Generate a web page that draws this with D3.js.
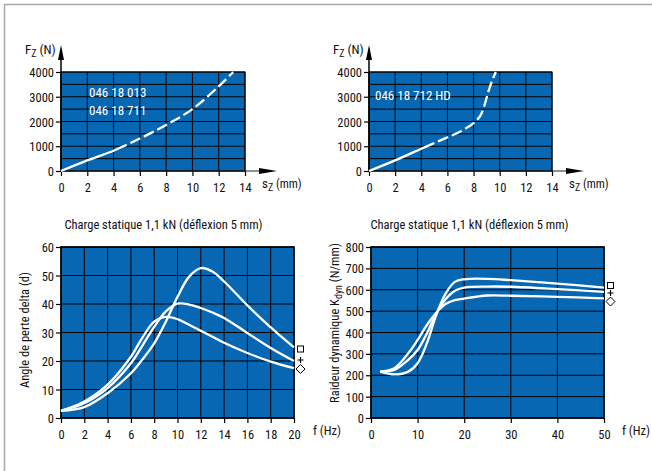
<!DOCTYPE html>
<html>
<head>
<meta charset="utf-8">
<script src="https://cdn.jsdelivr.net/npm/d3@7"></script>
<style>
  html, body { margin: 0; padding: 0; background: #fff; }
  svg text { font-family: "Liberation Sans Narrow", "Roboto Condensed", "DejaVu Sans Condensed", "Liberation Sans", sans-serif; fill: #111; }
</style>
</head>
<body>
<svg id="chart" width="652" height="471"></svg>
<script>
// Static load vs. deflection, two spring variants
const defl013 = [0, 2, 4, 5, 6, 8, 10, 12, 13.1];
const force013 = [0, 430, 820, 1060, 1310, 1860, 2500, 3420, 4000];
const defl712 = [0, 2, 4, 5, 6, 7, 8, 8.5, 8.8, 9.1, 9.4, 9.7];
const force712 = [0, 430, 900, 1130, 1360, 1600, 1930, 2220, 2600, 3150, 3620, 4000];
const forceTicks = [0, 1000, 2000, 3000, 4000];
const deflTicks = [0, 2, 4, 6, 8, 10, 12, 14];

// Loss angle vs. frequency (square, plus, diamond)
const freqLoss = [0, 2, 4, 6, 7, 8, 9, 10, 11, 12, 13, 14, 16, 18, 20];
const lossSquare = [2.5, 3.8, 8.7, 15.7, 20.6, 26.2, 33.8, 42.5, 49.6, 52.6, 51.4, 47.9, 39.5, 31.8, 24.8];
const lossPlus = [2.5, 5.2, 10.5, 19.2, 25.5, 32, 37.4, 40.1, 39.8, 38.6, 37.0, 35.1, 29.8, 24.6, 20];
const lossDiamond = [2.5, 5.8, 11.7, 21.5, 28.3, 33.8, 35.5, 34.7, 32.7, 30.6, 28.5, 26.4, 22.8, 19.8, 17.5];
const lossTicksX = [0, 2, 4, 6, 8, 10, 12, 14, 16, 18, 20];
const lossTicksY = [0, 10, 20, 30, 40, 50, 60];

// Dynamic stiffness vs. frequency
const freqStiff = [2, 5, 8, 10, 12, 14, 16, 18, 20, 25, 30, 40, 50];
const stiffSquare = [217, 204, 217, 256, 350, 482, 582, 637, 649, 651, 645, 629, 610];
const stiffPlus = [217, 225, 272, 318, 396, 489, 555, 595, 610, 615, 614, 603, 590];
const stiffDiamond = [217, 233, 303, 365, 435, 492, 533, 551, 559, 573, 572, 567, 560];
const stiffTicksX = [0, 10, 20, 30, 40, 50];
const stiffTicksY = [0, 100, 200, 300, 400, 500, 600, 700, 800];

const BLUE = "#0767b3";
const svg = d3.select("#chart");

// page frame
svg.append("path").attr("d", "M4.5,471V4.5H652").attr("fill", "none")
  .attr("stroke", "#a8a8a8").attr("stroke-width", 1.5);

function arrowUp(g, x, yTip) {
  g.append("path").attr("d", `M${x},${yTip}L${x - 3},${yTip + 15}L${x + 3},${yTip + 15}Z`).attr("fill", "#000");
}
function arrowRight(g, xTip, y) {
  g.append("path").attr("d", `M${xTip},${y}L${xTip - 18},${y - 3}L${xTip - 18},${y + 3}Z`).attr("fill", "#000");
}

function panel(opt) {
  const g = svg.append("g");
  const x = d3.scaleLinear().domain(opt.xDomain).range([opt.x0, opt.x1]);
  const y = d3.scaleLinear().domain(opt.yDomain).range([opt.y1, opt.y0]);

  g.append("rect").attr("x", opt.x0).attr("y", opt.y0)
    .attr("width", opt.x1 - opt.x0).attr("height", opt.y1 - opt.y0).attr("fill", BLUE);

  // grid
  g.append("g").selectAll("line").data(opt.xGrid).join("line")
    .attr("x1", d => x(d)).attr("x2", d => x(d)).attr("y1", opt.y0).attr("y2", opt.y1)
    .attr("stroke", "#000").attr("stroke-width", 1);
  g.append("g").selectAll("line").data(opt.yGrid).join("line")
    .attr("x1", opt.x0).attr("x2", opt.x1).attr("y1", d => y(d)).attr("y2", d => y(d))
    .attr("stroke", "#000").attr("stroke-width", 1);

  // axes
  const ax = g.append("g").attr("transform", `translate(0,${opt.y1})`)
    .call(d3.axisBottom(x).tickValues(opt.xTicks).tickSize(5).tickPadding(4).tickFormat(d3.format("d")));
  const ay = g.append("g").attr("transform", `translate(${opt.x0},0)`)
    .call(d3.axisLeft(y).tickValues(opt.yTicks).tickSize(5).tickPadding(2).tickFormat(d3.format("d")));
  [ax, ay].forEach(a => {
    a.select(".domain").remove();
    a.selectAll("line").attr("stroke", "#000").attr("stroke-width", 1.2);
    a.selectAll("text").attr("font-size", 12.5).attr("fill", "#111");
  });
  ax.selectAll("text").attr("dy", "0.95em");
  ay.selectAll("text").attr("dy", "0.36em");
  return { g, x, y };
}

const lineGen = (x, y) => d3.line().x(d => x(d[0])).y(d => y(d[1])).curve(d3.curveCatmullRom.alpha(0.5));

function springPanel(x0, x1, sData, fData, labels, labelY) {
  const p = panel({
    x0, x1, y0: 72, y1: 171,
    xDomain: [0, 14], yDomain: [0, 4000],
    xGrid: deflTicks, yGrid: d3.range(0, 4001, 500),
    xTicks: deflTicks, yTicks: forceTicks
  });
  const { g, x, y } = p;
  // border
  g.append("rect").attr("x", x0).attr("y", 72).attr("width", x1 - x0).attr("height", 99)
    .attr("fill", "none").attr("stroke", "#000").attr("stroke-width", 1);
  // axes with arrows
  g.append("line").attr("x1", x0).attr("x2", x0).attr("y1", 171).attr("y2", 52)
    .attr("stroke", "#000").attr("stroke-width", 1.5);
  arrowUp(g, x0, 45);
  g.append("line").attr("x1", x0).attr("x2", x1 + 18).attr("y1", 171).attr("y2", 171)
    .attr("stroke", "#222").attr("stroke-width", 1.2);
  arrowRight(g, x1 + 32, 171);

  // curve: solid up to 5 mm, dashed beyond
  const pts = sData.map((s, i) => [s, fData[i]]);
  const ln = lineGen(x, y);
  const full = g.append("path").attr("d", ln(pts)).attr("fill", "none")
    .attr("stroke", "#fff").attr("stroke-width", 2.3);
  const node = full.node();
  const total = node.getTotalLength();
  let lo = 0, hi = total;
  const xs = x(5);
  for (let k = 0; k < 30; k++) {
    const mid = (lo + hi) / 2;
    if (node.getPointAtLength(mid).x < xs) lo = mid; else hi = mid;
  }
  const pattern = [lo];
  let acc = lo, gap = true;
  while (acc < total + 20) {
    const seg = gap ? 4 : 11;
    pattern.push(seg);
    acc += seg;
    gap = !gap;
  }
  if (pattern.length % 2 === 1) pattern.push(4);
  full.attr("stroke-dasharray", pattern.join(","));

  labels.forEach((t, i) => {
    g.append("text").attr("x", x0 + (labels.length === 1 ? 6 : 28))
      .attr("y", labelY + i * 18).attr("font-size", 13).style("fill", "#fff").text(t);
  });

  // axis titles
  const fz = g.append("text").attr("x", x0 - 36).attr("y", 54).attr("font-size", 13);
  fz.append("tspan").text("F");
  fz.append("tspan").attr("font-size", 10).attr("dy", 3).text("Z");
  fz.append("tspan").attr("dy", -3).text(" (N)");
  const sz = g.append("text").attr("x", x1 + 17).attr("y", 188).attr("font-size", 13);
  sz.append("tspan").text("s");
  sz.append("tspan").attr("font-size", 10).attr("dy", 3).text("Z");
  sz.append("tspan").attr("dy", -3).attr("font-size", 12).text(" (mm)");
  return p;
}

springPanel(61, 245, defl013, force013, ["046 18 013", "046 18 711"], 97);
springPanel(369, 552, defl712, force712, ["046 18 712 HD"], 100);

// markers at the right end of the dynamic curves
function markers(g, cx, ys) {
  g.append("rect").attr("x", cx - 3).attr("y", ys[0] - 3).attr("width", 6).attr("height", 6)
    .attr("fill", "#fff").attr("stroke", "#000").attr("stroke-width", 1);
  g.append("path").attr("d", `M${cx - 3},${ys[1]}H${cx + 3}M${cx},${ys[1] - 3}V${ys[1] + 3}`)
    .attr("stroke", "#000").attr("stroke-width", 1.2);
  g.append("path").attr("d", `M${cx},${ys[2] - 4.5}L${cx + 4.5},${ys[2]}L${cx},${ys[2] + 4.5}L${cx - 4.5},${ys[2]}Z`)
    .attr("fill", "#fff").attr("stroke", "#000").attr("stroke-width", 1);
}

function dynPanel(opt, fData, series, title, yTitle, markerX, markerY) {
  const p = panel(Object.assign({ y0: 247, y1: 418 }, opt));
  const { g, x, y } = p;
  g.append("rect").attr("x", opt.x0).attr("y", 247).attr("width", opt.x1 - opt.x0).attr("height", 171)
    .attr("fill", "none").attr("stroke", "#000").attr("stroke-width", 1.6);
  const ln = lineGen(x, y);
  series.forEach(vals => {
    g.append("path").attr("d", ln(fData.map((f, i) => [f, vals[i]]))).attr("fill", "none")
      .attr("stroke", "#fff").attr("stroke-width", 2.3);
  });
  g.append("text").attr("x", (opt.x0 + opt.x1) / 2 + opt.titleShift).attr("y", 229)
    .attr("text-anchor", "middle").attr("font-size", 12.5).text(title);
  const yt = g.append("text").attr("transform", `translate(${opt.x0 - 32},${opt.yTitleCy}) rotate(-90)`)
    .attr("text-anchor", "middle").attr("font-size", 12.5);
  yTitle(yt);
  g.append("text").attr("x", opt.x1 + opt.fShift).attr("y", 435).attr("font-size", 12.5).text("f (Hz)");
  markers(g, markerX, markerY);
}

dynPanel({ x0: 61, x1: 294, xDomain: [0, 20], yDomain: [0, 60], xGrid: lossTicksX, yGrid: lossTicksY,
  xTicks: lossTicksX, yTicks: lossTicksY, titleShift: -14, yTitleCy: 330, fShift: 19 },
  freqLoss, [lossSquare, lossPlus, lossDiamond],
  "Charge statique 1,1 kN (déflexion 5 mm)",
  t => t.text("Angle de perte delta (d)"),
  300.5, [349, 360, 369]);

dynPanel({ x0: 371, x1: 604, xDomain: [0, 50], yDomain: [0, 800], xGrid: stiffTicksX, yGrid: stiffTicksY,
  xTicks: stiffTicksX, yTicks: stiffTicksY, titleShift: -18, yTitleCy: 323, fShift: 18 },
  freqStiff, [stiffSquare, stiffPlus, stiffDiamond],
  "Charge statique 1,1 kN (déflexion 5 mm)",
  t => { t.append("tspan").text("Raideur dynamique K");
         t.append("tspan").attr("font-size", 10).attr("dy", 3).text("dyn");
         t.append("tspan").attr("dy", -3).text(" (N/mm)"); },
  610.5, [285.5, 293, 301.5]);
</script>
</body>
</html>
